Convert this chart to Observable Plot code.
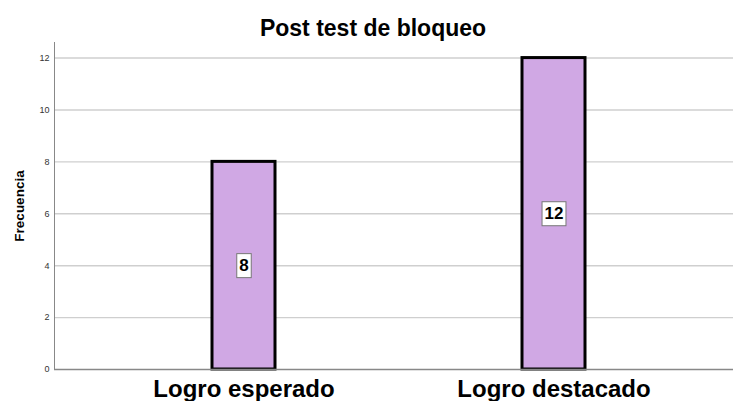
<!DOCTYPE html>
<html><head><meta charset="utf-8">
<script src="https://cdn.jsdelivr.net/npm/d3@7"></script>
<script src="https://cdn.jsdelivr.net/npm/@observablehq/plot@0.6"></script>
<style>
html,body{margin:0;padding:0;background:#fff;font-family:"Liberation Sans",Arial,sans-serif;overflow:hidden;}
#title{height:40px;line-height:56px;text-align:center;font-weight:bold;font-size:23px;color:#000;padding-left:13px;box-sizing:border-box;width:733px;}
#chart svg{display:block;max-width:none !important;width:733px;}
</style></head><body>
<div id="title">Post test de bloqueo</div>
<div id="chart"></div>
<script>
const categories = ["Logro esperado", "Logro destacado"];
const counts = [8, 12];
const yTicks = [0, 2, 4, 6, 8, 10, 12];
const data = categories.map((c, i) => ({cat: c, n: counts[i]}));

const plot = Plot.plot({
  width: 733, height: 361,
  marginLeft: 54, marginRight: 0, marginTop: 2, marginBottom: 32,
  style: {fontFamily: "Liberation Sans, Arial, sans-serif", background: "#fff", overflow: "visible"},
  x: {domain: categories, paddingInner: 0.797, paddingOuter: 0.492, align: 0.517, label: null},
  y: {domain: [0, 12.6], label: null},
  marks: [
    Plot.ruleY(yTicks.filter(d => d > 0), {stroke: "#cfcfcf", strokeWidth: 1.4}),
    Plot.barY(data, {x: "cat", y: "n", fill: "#d0a8e4", stroke: "#000", strokeWidth: 3}),
    Plot.axisY({ticks: yTicks, tickSize: 0, tickPadding: 5, fontSize: 9, color: "#333", label: null}),
    Plot.axisX({tickSize: 0, tickPadding: 10, fontSize: 24, fontWeight: "bold", color: "#000", label: null}),
    Plot.frame({anchor: "left", stroke: "#888"}),
    Plot.ruleY([0], {stroke: "#888", strokeWidth: 1.5}),
    Plot.text(["Frecuencia"], {frameAnchor: "left", dx: -35, rotate: -90, textAnchor: "middle", fontWeight: "bold", fontSize: 13.5, fill: "#000"}),
    Plot.text(data, {x: "cat", y: d => d.n / 2, text: d => String(d.n), fontWeight: "bold", fontSize: 17, fill: "#000", className: "vlabel"})
  ]
});
document.getElementById("chart").appendChild(plot);

// white boxes behind the value labels
plot.querySelectorAll(".vlabel text").forEach(t => {
  const b = t.getBBox();
  const r = document.createElementNS("http://www.w3.org/2000/svg", "rect");
  const padX = 2.5, padY = 2.5;
  r.setAttribute("x", b.x - padX);
  r.setAttribute("y", b.y - padY);
  r.setAttribute("width", b.width + 2 * padX);
  r.setAttribute("height", b.height + 2 * padY);
  r.setAttribute("fill", "#fff");
  r.setAttribute("stroke", "#777");
  r.setAttribute("stroke-width", 1);
  const tr = t.getAttribute("transform");
  if (tr) r.setAttribute("transform", tr);
  t.parentNode.insertBefore(r, t);
});
</script>
</body></html>
